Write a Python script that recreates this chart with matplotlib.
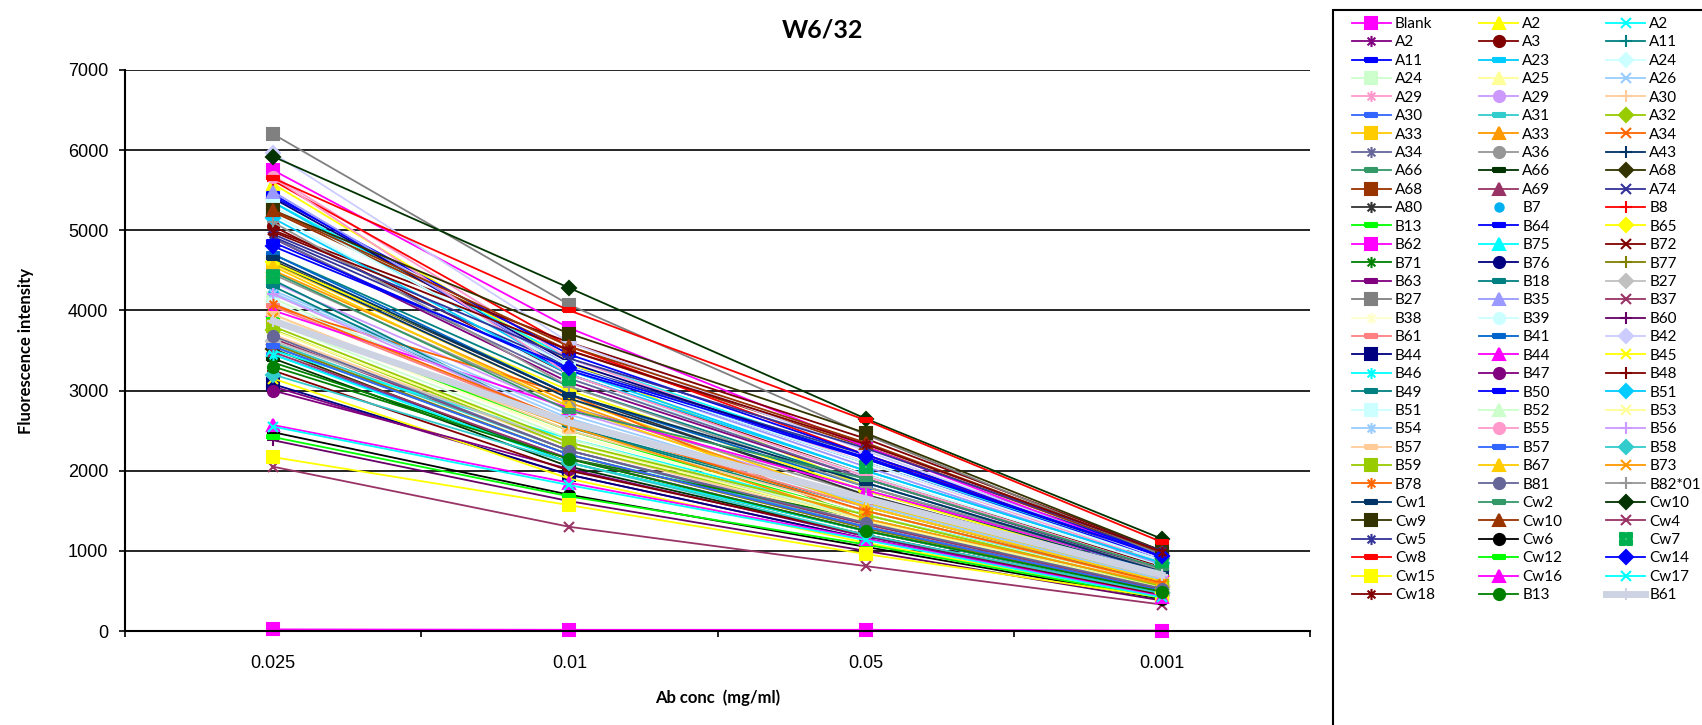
import matplotlib
matplotlib.use("Agg")
import matplotlib.pyplot as plt
from matplotlib.path import Path
from matplotlib.patches import Rectangle

# categories (as labelled on the x axis)
conc = ['0.025', '0.01', '0.05', '0.001']

# series names, in the order of the legend (row by row)
names = ['Blank', 'A2', 'A2', 'A2', 'A3', 'A11', 'A11', 'A23', 'A24', 'A24', 'A25', 'A26',
         'A29', 'A29', 'A30', 'A30', 'A31', 'A32', 'A33', 'A33', 'A34', 'A34', 'A36', 'A43',
         'A66', 'A66', 'A68', 'A68', 'A69', 'A74', 'A80', 'B7', 'B8', 'B13', 'B64', 'B65',
         'B62', 'B75', 'B72', 'B71', 'B76', 'B77', 'B63', 'B18', 'B27', 'B27', 'B35', 'B37',
         'B38', 'B39', 'B60', 'B61', 'B41', 'B42', 'B44', 'B44', 'B45', 'B46', 'B47', 'B48',
         'B49', 'B50', 'B51', 'B51', 'B52', 'B53', 'B54', 'B55', 'B56', 'B57', 'B57', 'B58',
         'B59', 'B67', 'B73', 'B78', 'B81', 'B82*01', 'Cw1', 'Cw2', 'Cw10', 'Cw9', 'Cw10', 'Cw4',
         'Cw5', 'Cw6', 'Cw7', 'Cw8', 'Cw12', 'Cw14', 'Cw15', 'Cw16', 'Cw17', 'Cw18', 'B13', 'B61']

colors = ['#FF00FF', '#FFFF00', '#00FFFF', '#800080', '#800000', '#008080', '#0000FF', '#00CCFF',
          '#CCFFFF', '#CCFFCC', '#FFFF99', '#99CCFF', '#FF99CC', '#CC99FF', '#FFCC99', '#3366FF',
          '#33CCCC', '#99CC00', '#FFCC00', '#FF9900', '#FF6600', '#666699', '#969696', '#003366',
          '#339966', '#003300', '#333300', '#993300', '#993366', '#333399', '#333333', '#00B0F0',
          '#FF0000', '#00FF00', '#0000FF', '#FFFF00', '#FF00FF', '#00FFFF', '#800000', '#008000',
          '#000080', '#808000', '#800080', '#008080', '#C0C0C0', '#808080', '#9999FF', '#993366',
          '#FFFFCC', '#CCFFFF', '#660066', '#FF8080', '#0066CC', '#CCCCFF', '#000080', '#FF00FF',
          '#FFFF00', '#00FFFF', '#800080', '#800000', '#008080', '#0000FF', '#00CCFF', '#CCFFFF',
          '#CCFFCC', '#FFFF99', '#99CCFF', '#FF99CC', '#CC99FF', '#FFCC99', '#3366FF', '#33CCCC',
          '#99CC00', '#FFCC00', '#FF9900', '#FF6600', '#666699', '#969696', '#003366', '#339966',
          '#003300', '#333300', '#993300', '#993366', '#333399', '#000000', '#00B050', '#FF0000',
          '#00FF00', '#0000FF', '#FFFF00', '#FF00FF', '#00FFFF', '#800000', '#008000', '#CDD3E2']

# fluorescence intensity at 0.025, 0.01, 0.05, 0.001
values = [
    [20, 15, 15, 5], [5580, 3350, 1800, 700], [5350, 3400, 2150, 880], [4900, 3100, 1900, 760],
    [5050, 3200, 1950, 800], [4700, 3050, 1850, 750], [5450, 3300, 2100, 900], [5350, 3250, 2000, 850],
    [5200, 3150, 1950, 820], [4150, 2550, 1500, 600], [3950, 2450, 1450, 580], [4250, 2700, 1600, 650],
    [5680, 3400, 2100, 850], [4350, 2750, 1650, 680], [3700, 2300, 1350, 520], [3450, 2150, 1250, 480],
    [3600, 2250, 1300, 510], [3760, 2300, 1400, 550], [4580, 2900, 1600, 640], [4500, 2850, 1550, 600],
    [4050, 2950, 1380, 560], [4900, 3150, 1900, 780], [4450, 2800, 1700, 700], [4600, 2900, 1750, 720],
    [3550, 2200, 1300, 500], [3400, 2050, 1200, 460], [3520, 2100, 1250, 480], [5230, 3500, 2300, 960],
    [3650, 2250, 1330, 520], [4920, 3300, 2200, 970], [4620, 2950, 1700, 700], [4230, 2620, 1550, 620],
    [5620, 3550, 2200, 920], [3900, 2500, 1450, 560], [5420, 3450, 2200, 950], [4600, 3000, 1750, 690],
    [5750, 3780, 2300, 900], [3500, 2400, 1450, 600], [5000, 3600, 2400, 1000], [3350, 2150, 1400, 560],
    [5400, 3350, 2150, 920], [3580, 2200, 1280, 490], [3050, 1950, 1150, 440], [4300, 2550, 1550, 620],
    [3620, 2350, 1400, 560], [6200, 4070, 2450, 950], [5480, 3300, 2050, 830], [3480, 2150, 1250, 470],
    [3900, 2450, 1450, 580], [4100, 2600, 1550, 630], [2380, 1620, 1000, 380], [4050, 2600, 1550, 620],
    [4700, 2950, 1800, 740], [5960, 3600, 2250, 900], [3080, 1950, 1150, 450], [4000, 2780, 1760, 760],
    [3150, 1900, 1100, 430], [3450, 2100, 1250, 480], [3000, 2020, 1180, 440], [3250, 2000, 1200, 450],
    [4380, 2540, 1500, 600], [4850, 3250, 2150, 930], [5150, 3200, 2000, 850], [5300, 3300, 2100, 880],
    [3850, 2400, 1400, 560], [3750, 2350, 1380, 540], [4220, 2650, 1580, 640], [5660, 3200, 1930, 780],
    [4200, 2600, 1650, 680], [3950, 2500, 1500, 590], [3550, 2200, 1300, 500], [3200, 2100, 1200, 470],
    [3800, 2350, 1450, 560], [4550, 2800, 1550, 620], [3900, 2550, 1400, 580], [4080, 2620, 1500, 600],
    [3680, 2250, 1350, 530], [5100, 3050, 1800, 760], [4650, 2950, 1850, 740], [4480, 2750, 1900, 780],
    [5920, 4280, 2650, 1150], [5250, 3710, 2470, 1000], [5250, 3550, 2350, 980], [2050, 1300, 810, 330],
    [4950, 3400, 2280, 1000], [2480, 1700, 1050, 400], [4420, 3150, 2050, 870], [5650, 4000, 2630, 1110],
    [2420, 1680, 1080, 410], [4800, 3280, 2170, 930], [2170, 1570, 960, 420], [2570, 1850, 1150, 430],
    [2550, 1820, 1135, 420], [4980, 3500, 2330, 990], [3300, 2145, 1250, 490], [3870, 2600, 1650, 700],
]

# marker shapes
dash = Path([(-1, -0.3), (1, -0.3), (1, 0.3), (-1, 0.3), (-1, -0.3)])
star = Path([(-0.7, -0.7), (0.7, 0.7), (-0.7, 0.7), (0.7, -0.7), (0, -1), (0, 1)],
            [Path.MOVETO, Path.LINETO, Path.MOVETO, Path.LINETO, Path.MOVETO, Path.LINETO])
verts, codes = [], []
for cx, cy in [(-0.5, -0.5), (0.5, -0.5), (-0.5, 0.5), (0.5, 0.5)]:
    verts += [(cx - 0.4, cy - 0.4), (cx + 0.4, cy - 0.4), (cx + 0.4, cy + 0.4), (cx - 0.4, cy + 0.4), (0, 0)]
    codes += [Path.MOVETO, Path.LINETO, Path.LINETO, Path.LINETO, Path.CLOSEPOLY]
quad = Path(verts, codes)

cycle = [('s', 8), ('^', 8.5), ('x', 7), (star, 8), ('o', 8), ('+', 8), (dash, 8), (dash, 8), ('D', 7)]

fig = plt.figure(figsize=(17.02, 7.25), dpi=100)
ax = fig.add_axes([125 / 1702, 1 - 631 / 725, 1185 / 1702, 561 / 725])

handles = []
for i, (name, col, vals) in enumerate(zip(names, colors, values)):
    mk, ms = cycle[i % 9]
    ls, lw = '-', 1.3
    if name == 'B7':
        ls, ms = 'none', 6
    if name == 'Cw7':
        ls, mk, ms = 'none', quad, 9
    if i == 95:
        lw = 5
    h, = ax.plot(conc, vals, color=col, marker=mk, markersize=ms, linestyle=ls, linewidth=lw,
                 markerfacecolor=col, markeredgecolor=col, markeredgewidth=1.5, label=name,
                 clip_on=False)
    handles.append(h)

ax.set_ylim(0, 7000)
ax.set_xlim(-0.5, 3.5)
ax.set_yticks(range(0, 7001, 1000))
ax.grid(axis='y', color='black', linewidth=1.2)
ax.set_axisbelow(True)
for s in ['top', 'right']:
    ax.spines[s].set_visible(False)
for s in ['left', 'bottom']:
    ax.spines[s].set_linewidth(1.5)
ax.set_xticks([-0.5, 0.5, 1.5, 2.5, 3.5], minor=True)
ax.tick_params(axis='x', which='major', length=0, pad=17, labelsize=13)
ax.tick_params(axis='x', which='minor', length=4, width=1.2, direction='out')
ax.tick_params(axis='y', length=4, width=1.2, pad=8, labelsize=13)
for t in ax.get_xticklabels() + ax.get_yticklabels():
    t.set_fontfamily('Liberation Sans')

ax.set_xlabel('Ab conc  (mg/ml)', fontsize=12, fontweight='bold', family='Lato')
ax.xaxis.set_label_coords(0.5, -0.105)
ax.set_ylabel('Fluorescence intensity', fontsize=12, fontweight='bold', family='Lato')
ax.yaxis.set_label_coords(-0.077, 0.5)
fig.text(0.483, 1 - 30 / 725, 'W6/32', ha='center', va='center', fontsize=18,
         fontweight='bold', family='Lato')

# legend filled row by row, three columns
order = [i for c in range(3) for i in range(c, len(handles), 3)]
leg = fig.legend([handles[i] for i in order], [names[i] for i in order], ncol=3,
                 loc='upper left', bbox_to_anchor=(1352 / 1702, 1 - 17 / 725),
                 frameon=False, borderpad=0, borderaxespad=0, handlelength=2.55,
                 handletextpad=0.26, columnspacing=2.9, labelspacing=0.29,
                 prop={'family': 'Lato', 'size': 11})
fig.patches.append(Rectangle((1333 / 1702, -0.2), 0.5, 1.2 - 10 / 725, transform=fig.transFigure,
                             fill=False, edgecolor='black', linewidth=1.5))

fig.savefig('out.png', dpi=100)
